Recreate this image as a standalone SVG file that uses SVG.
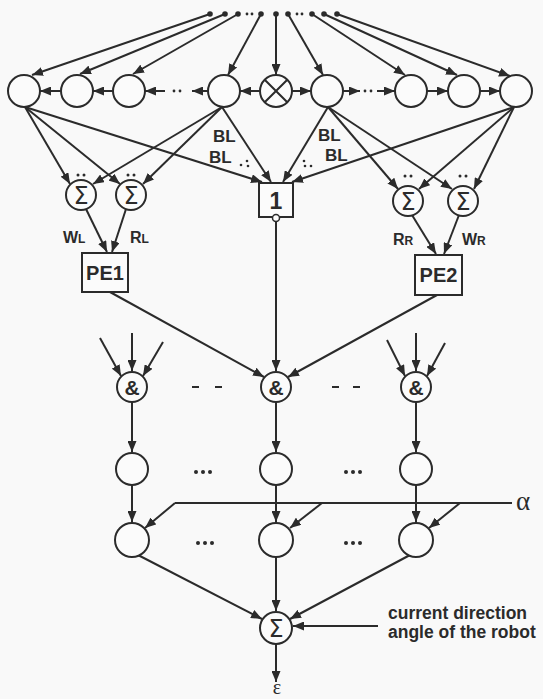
<svg xmlns="http://www.w3.org/2000/svg" width="543" height="699" viewBox="0 0 543 699">
<style>
.ln{stroke:#2b2b2b;stroke-width:2;fill:none}
.arr{stroke:#2b2b2b;stroke-width:2;fill:none;marker-end:url(#ah)}
.nd{stroke:#2b2b2b;stroke-width:2;fill:#fbfbfb}
.dot{fill:#2b2b2b}
.lbl{font-family:"Liberation Sans",Arial,sans-serif;font-weight:bold;fill:#2b2b2b}
.sig{font-family:"DejaVu Sans","Liberation Sans",sans-serif;font-size:24px;fill:#2b2b2b;text-anchor:middle}
.amp{font-family:"Liberation Sans",Arial,sans-serif;font-weight:bold;font-size:21px;fill:#2b2b2b;text-anchor:middle}
.gr{font-family:"Liberation Serif","Times New Roman",serif;fill:#2b2b2b}
</style>
<defs>
<marker id="ah" viewBox="0 0 11 9" refX="11" refY="4.5" markerWidth="11" markerHeight="9" markerUnits="userSpaceOnUse" orient="auto">
<path d="M0,0 L11,4.5 L0,9 z" fill="#2b2b2b"/>
</marker>
</defs>
<rect width="543" height="699" fill="#f9f9f9"/>

<g id="connectors">
<line class="arr" x1="210" y1="14" x2="32" y2="75"/>
<line class="arr" x1="225" y1="14" x2="80" y2="74"/>
<line class="arr" x1="238" y1="14" x2="133" y2="74"/>
<line class="arr" x1="261" y1="14" x2="228" y2="75"/>
<line class="arr" x1="276" y1="14" x2="276" y2="75"/>
<line class="arr" x1="288" y1="14" x2="323" y2="75"/>
<line class="arr" x1="312" y1="14" x2="405" y2="75"/>
<line class="arr" x1="324" y1="14" x2="457" y2="75"/>
<line class="arr" x1="337" y1="14" x2="510" y2="76"/>
<line class="arr" x1="260" y1="91" x2="240" y2="91"/>
<line class="arr" x1="208" y1="91" x2="192" y2="91"/>
<line class="arr" x1="165" y1="91" x2="145" y2="91"/>
<line class="arr" x1="113" y1="91" x2="93" y2="91"/>
<line class="arr" x1="61" y1="91" x2="40" y2="91"/>
<line class="arr" x1="292" y1="91" x2="311" y2="91"/>
<line class="arr" x1="343" y1="91" x2="360" y2="91"/>
<line class="arr" x1="377" y1="91" x2="395" y2="91"/>
<line class="arr" x1="427" y1="91" x2="448" y2="91"/>
<line class="arr" x1="480" y1="91" x2="500" y2="91"/>
<line class="arr" x1="25" y1="107" x2="70" y2="184"/>
<line class="arr" x1="25" y1="107" x2="120" y2="184"/>
<line class="arr" x1="25" y1="107" x2="262" y2="182"/>
<line class="arr" x1="222" y1="107" x2="93" y2="184"/>
<line class="arr" x1="222" y1="107" x2="143" y2="184"/>
<line class="arr" x1="222" y1="107" x2="271" y2="182"/>
<line class="arr" x1="328" y1="107" x2="283" y2="182"/>
<line class="arr" x1="328" y1="107" x2="398" y2="189"/>
<line class="arr" x1="328" y1="107" x2="452" y2="189"/>
<line class="arr" x1="514" y1="107" x2="292" y2="182"/>
<line class="arr" x1="514" y1="107" x2="419" y2="189"/>
<line class="arr" x1="514" y1="107" x2="474" y2="189"/>
<line class="arr" x1="86" y1="209" x2="107" y2="252"/>
<line class="arr" x1="126" y1="209" x2="112" y2="252"/>
<line class="arr" x1="412" y1="215" x2="436" y2="254"/>
<line class="arr" x1="459" y1="215" x2="444" y2="254"/>
<line class="arr" x1="276" y1="221" x2="276" y2="371"/>
<line class="arr" x1="110" y1="292" x2="264" y2="377"/>
<line class="arr" x1="437" y1="295" x2="288" y2="377"/>
<line class="arr" x1="100" y1="338" x2="121" y2="376"/>
<line class="arr" x1="132" y1="333" x2="132" y2="371"/>
<line class="arr" x1="163" y1="342" x2="143" y2="376"/>
<line class="arr" x1="387" y1="340" x2="405" y2="376"/>
<line class="arr" x1="416" y1="333" x2="416" y2="371"/>
<line class="arr" x1="445" y1="343" x2="427" y2="376"/>
<line class="arr" x1="132" y1="402" x2="132" y2="452"/>
<line class="arr" x1="276" y1="402" x2="276" y2="452"/>
<line class="arr" x1="416" y1="402" x2="416" y2="452"/>
<line class="arr" x1="132" y1="485" x2="132" y2="522"/>
<line class="arr" x1="276" y1="485" x2="276" y2="522"/>
<line class="arr" x1="416" y1="485" x2="416" y2="522"/>
<line class="ln" x1="175" y1="503" x2="512" y2="503"/>
<line class="arr" x1="175" y1="503" x2="145" y2="528"/>
<line class="arr" x1="322" y1="503" x2="290" y2="528"/>
<line class="arr" x1="460" y1="503" x2="429" y2="528"/>
<line class="arr" x1="138" y1="555" x2="262" y2="619"/>
<line class="arr" x1="276" y1="557" x2="276" y2="611"/>
<line class="arr" x1="410" y1="555" x2="290" y2="619"/>
<line class="arr" x1="378" y1="626" x2="293" y2="626"/>
<line class="arr" x1="276" y1="644" x2="276" y2="682"/>
</g>

<g id="inputs">
<circle class="dot" cx="210" cy="14" r="2.8"/>
<circle class="dot" cx="225" cy="14" r="2.8"/>
<circle class="dot" cx="238" cy="14" r="2.8"/>
<circle class="dot" cx="247" cy="14" r="1.4"/>
<circle class="dot" cx="252" cy="14" r="1.4"/>
<circle class="dot" cx="261" cy="14" r="2.8"/>
<circle class="dot" cx="276" cy="14" r="2.8"/>
<circle class="dot" cx="288" cy="14" r="2.8"/>
<circle class="dot" cx="297" cy="14" r="1.4"/>
<circle class="dot" cx="302" cy="14" r="1.4"/>
<circle class="dot" cx="312" cy="14" r="2.8"/>
<circle class="dot" cx="324" cy="14" r="2.8"/>
<circle class="dot" cx="337" cy="14" r="2.8"/>
</g>

<g id="top-row">
<g id="cL1"><circle class="nd" cx="24" cy="91" r="16"/></g>
<g id="cL2"><circle class="nd" cx="77" cy="91" r="16"/></g>
<g id="cL3"><circle class="nd" cx="129" cy="91" r="16"/></g>
<g id="cL4"><circle class="nd" cx="224" cy="91" r="16"/></g>
<g id="cX"><circle class="nd" cx="276" cy="91" r="16"/><path class="ln" d="M264.7,79.7 L287.3,102.3 M287.3,79.7 L264.7,102.3"/></g>
<g id="cR1"><circle class="nd" cx="327" cy="91" r="16"/></g>
<g id="cR2"><circle class="nd" cx="411" cy="91" r="16"/></g>
<g id="cR3"><circle class="nd" cx="464" cy="91" r="16"/></g>
<g id="cR4"><circle class="nd" cx="516" cy="91" r="16"/></g>
<circle class="dot" cx="174" cy="91" r="1.4"/><circle class="dot" cx="180" cy="91" r="1.4"/>
<circle class="dot" cx="365" cy="91" r="1.4"/><circle class="dot" cx="371" cy="91" r="1.4"/>
</g>

<g id="sum1"><circle class="nd" cx="81" cy="195" r="15"/><text class="sig" x="81" y="203.5">Σ</text></g>
<g id="sum2"><circle class="nd" cx="131" cy="195" r="15"/><text class="sig" x="131" y="203.5">Σ</text></g>
<g id="sum3"><circle class="nd" cx="408" cy="201" r="15"/><text class="sig" x="408" y="209.5">Σ</text></g>
<g id="sum4"><circle class="nd" cx="463" cy="201" r="15"/><text class="sig" x="463" y="209.5">Σ</text></g>
<g id="sum-dots">
<circle class="dot" cx="78" cy="175" r="1.5"/><circle class="dot" cx="84" cy="175" r="1.5"/>
<circle class="dot" cx="128" cy="175" r="1.5"/><circle class="dot" cx="134" cy="175" r="1.5"/>
<circle class="dot" cx="405" cy="176" r="1.5"/><circle class="dot" cx="411" cy="176" r="1.5"/>
<circle class="dot" cx="460" cy="176" r="1.5"/><circle class="dot" cx="466" cy="176" r="1.5"/>
<circle class="dot" cx="241" cy="165" r="1.3"/><circle class="dot" cx="247" cy="161" r="1.3"/><circle class="dot" cx="248" cy="166" r="1.3"/>
<circle class="dot" cx="304" cy="161" r="1.3"/><circle class="dot" cx="305" cy="166" r="1.3"/><circle class="dot" cx="311" cy="166" r="1.3"/>
</g>

<g id="box1"><rect class="nd" x="259" y="183" width="34" height="34"/><text class="lbl" x="276" y="209" font-size="23" text-anchor="middle">1</text><circle cx="276" cy="218" r="3.5" fill="#fbfbfb" stroke="#2b2b2b" stroke-width="1.5"/></g>
<g id="pe1"><rect class="nd" x="82" y="253" width="46" height="39"/><text class="lbl" x="105" y="280" font-size="20" text-anchor="middle">PE1</text></g>
<g id="pe2"><rect class="nd" x="415" y="255" width="47" height="40"/><text class="lbl" x="438.5" y="282" font-size="20" text-anchor="middle">PE2</text></g>

<g id="labels">
<text class="lbl" x="63" y="243" font-size="16">W<tspan font-size="12">L</tspan></text>
<text class="lbl" x="130" y="243" font-size="16">R<tspan font-size="12">L</tspan></text>
<text class="lbl" x="393" y="245" font-size="16">R<tspan font-size="12">R</tspan></text>
<text class="lbl" x="462" y="245" font-size="16">W<tspan font-size="12">R</tspan></text>
<text class="lbl" x="213" y="142" font-size="17">BL</text>
<text class="lbl" x="209" y="163" font-size="17">BL</text>
<text class="lbl" x="318" y="141" font-size="17">BL</text>
<text class="lbl" x="325" y="161" font-size="17">BL</text>
</g>

<g id="and1"><circle class="nd" cx="132" cy="387" r="15"/><text class="amp" x="132" y="395">&amp;</text></g>
<g id="and2"><circle class="nd" cx="276" cy="387" r="15"/><text class="amp" x="276" y="395">&amp;</text></g>
<g id="and3"><circle class="nd" cx="416" cy="387" r="15"/><text class="amp" x="416" y="395">&amp;</text></g>
<g id="and-gaps">
<path class="ln" d="M192,387 H199 M215,387 H222 M332,387 H339 M353,387 H360"/>
</g>

<g id="r2a"><circle class="nd" cx="132" cy="469" r="16"/></g>
<g id="r2b"><circle class="nd" cx="276" cy="469" r="16"/></g>
<g id="r2c"><circle class="nd" cx="416" cy="469" r="16"/></g>
<g id="r3a"><circle class="nd" cx="132" cy="540" r="17"/></g>
<g id="r3b"><circle class="nd" cx="276" cy="540" r="17"/></g>
<g id="r3c"><circle class="nd" cx="416" cy="540" r="17"/></g>
<g id="row-dots">
<circle class="dot" cx="196" cy="472" r="2"/><circle class="dot" cx="203" cy="472" r="2"/><circle class="dot" cx="210" cy="472" r="2"/>
<circle class="dot" cx="346" cy="472" r="2"/><circle class="dot" cx="353" cy="472" r="2"/><circle class="dot" cx="360" cy="472" r="2"/>
<circle class="dot" cx="198" cy="543" r="2"/><circle class="dot" cx="205" cy="543" r="2"/><circle class="dot" cx="212" cy="543" r="2"/>
<circle class="dot" cx="346" cy="543" r="2"/><circle class="dot" cx="353" cy="543" r="2"/><circle class="dot" cx="360" cy="543" r="2"/>
</g>

<g id="sumF"><circle class="nd" cx="276" cy="628" r="16"/><text class="sig" x="276" y="636.5">Σ</text></g>

<text class="gr" x="516" y="510" font-size="27">α</text>
<text class="gr" x="277" y="694" font-size="20" text-anchor="middle">ε</text>
<text class="lbl" x="388" y="619" font-size="17.5">current direction</text>
<text class="lbl" x="388" y="638" font-size="17.5">angle of the robot</text>
</svg>
